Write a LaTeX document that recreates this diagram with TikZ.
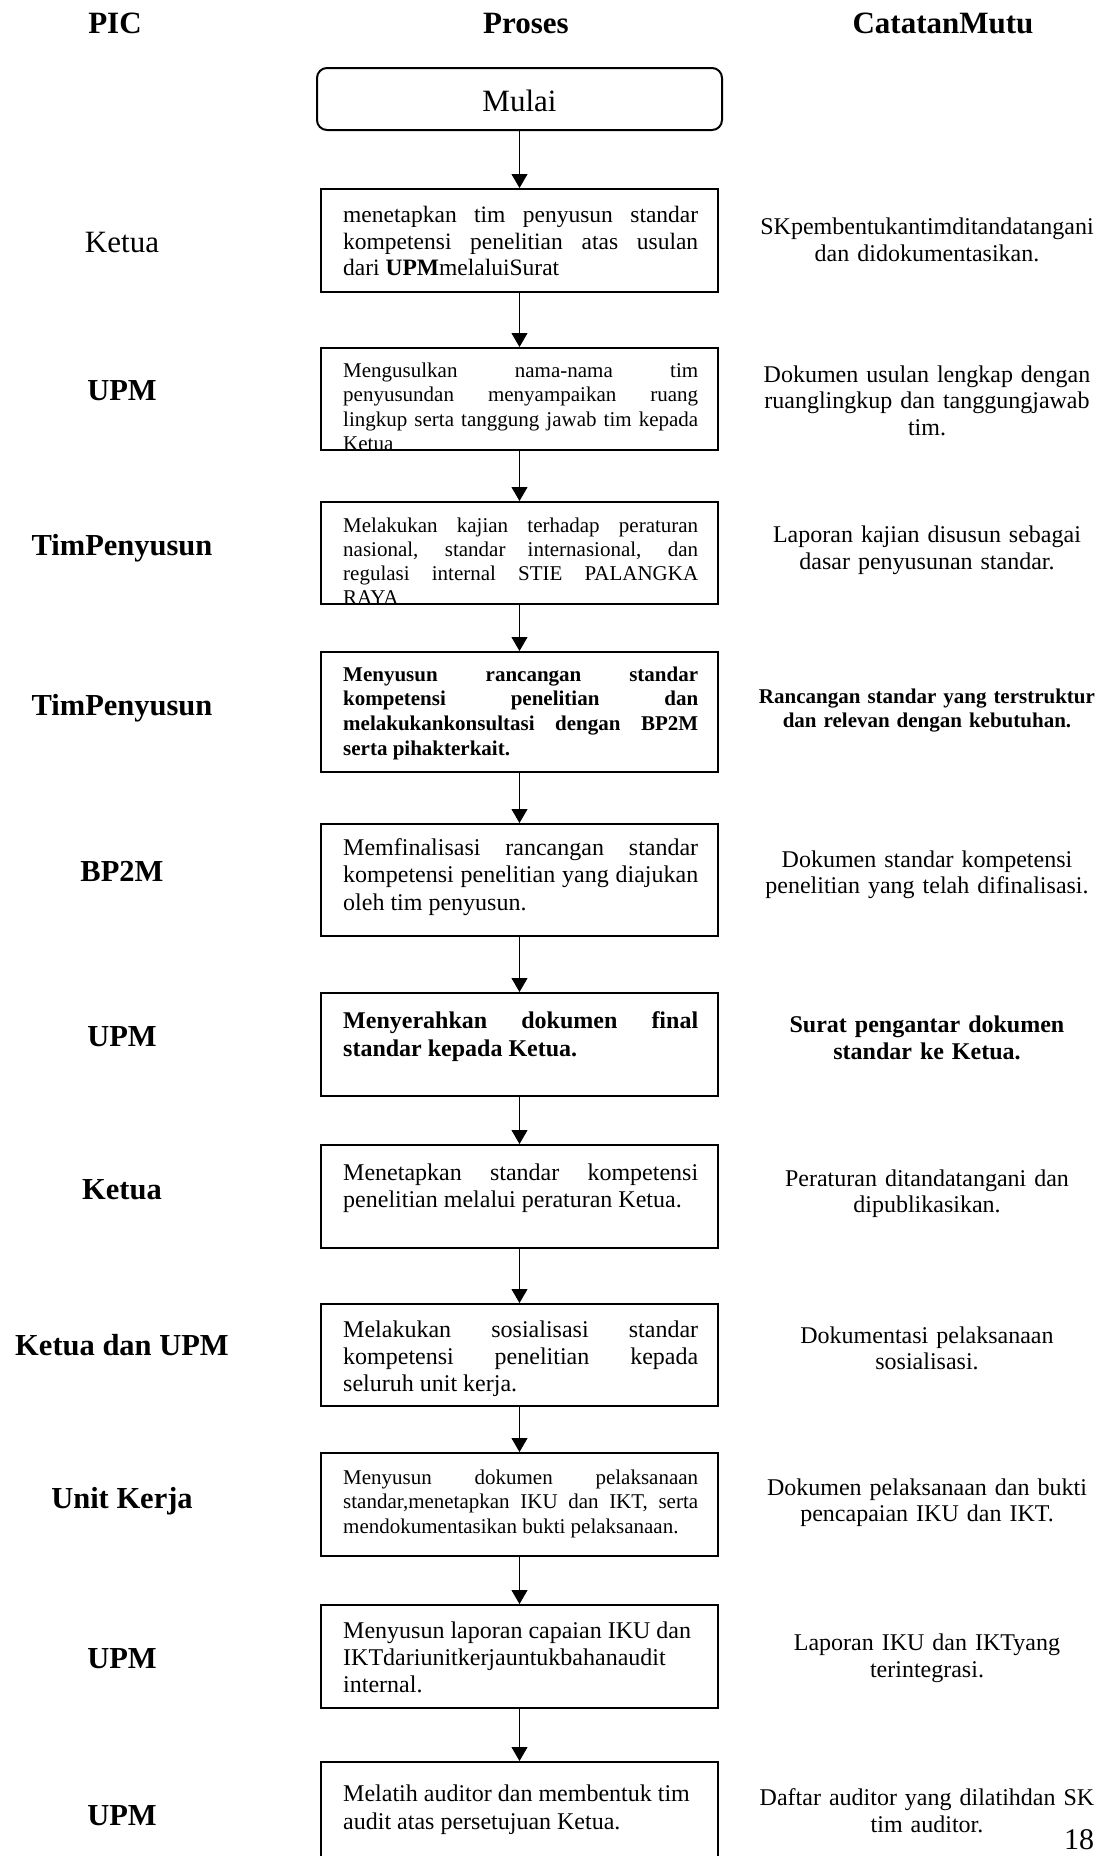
\documentclass[tikz,border=0pt]{standalone}
\usepackage{fontspec}
\setmainfont{Liberation Serif}
\usetikzlibrary{arrows.meta}
\hyphenpenalty=10000
\exhyphenpenalty=10000
\tolerance=10000
\begin{document}
\begin{tikzpicture}[x=1pt,y=-1pt,
  procbox/.style={draw, line width=2pt, minimum width=397pt, inner sep=0pt, anchor=north},
  ptext/.style={anchor=base west, inner sep=0pt, text width=355pt, align=justify},
  pic/.style={anchor=base, inner sep=0pt, font=\fontsize{30.5}{34}\selectfont\bfseries},
  note/.style={anchor=base, inner sep=0pt, text width=350pt, align=center},
  arr/.style={-{Triangle[width=16pt,length=14pt]}, line width=1pt},
  hdr/.style={anchor=base, inner sep=0pt, font=\fontsize{31}{34}\selectfont\bfseries}]
\useasboundingbox (0,0) rectangle (1105,1856);

% headers
\node[hdr] (hpic) at (115,33) {PIC};
\node[hdr] (hpro) at (526,33) {Proses};
\node[hdr] (hcat) at (943,33) {CatatanMutu};

% start
\node[draw, line width=2pt, rounded corners=10pt, minimum width=405pt, minimum height=62pt, inner sep=0pt,
      text height=25pt, text depth=0pt, font=\fontsize{31}{34}\selectfont] (m) at (519.5,99) {Mulai};

% boxes
\node[procbox, minimum height=103pt] (b1) at (519.5,188) {};
\node[procbox, minimum height=102pt] (b2) at (519.5,347) {};
\node[procbox, minimum height=102pt] (b3) at (519.5,501) {};
\node[procbox, minimum height=120pt] (b4) at (519.5,651) {};
\node[procbox, minimum height=112pt] (b5) at (519.5,823) {};
\node[procbox, minimum height=103pt] (b6) at (519.5,992) {};
\node[procbox, minimum height=103pt] (b7) at (519.5,1144) {};
\node[procbox, minimum height=102pt] (b8) at (519.5,1303) {};
\node[procbox, minimum height=103pt] (b9) at (519.5,1452) {};
\node[procbox, minimum height=103pt] (b10) at (519.5,1604) {};
\node[procbox, minimum height=103pt] (b11) at (519.5,1761) {};

% box texts
\node[ptext, font=\fontsize{23.5}{26.7}\selectfont] (t1) at (343,222.5)
  {menetapkan tim penyusun standar\linebreak kompetensi penelitian atas usulan\linebreak dari \textbf{UPM}melaluiSurat};
\begin{scope}
\clip (b2.south west) rectangle (b2.north east);
\node[ptext, font=\fontsize{21}{24.5}\selectfont] (t2) at (343,377)
  {Mengusulkan nama-nama tim\linebreak penyusundan menyampaikan ruang\linebreak lingkup serta tanggung jawab tim kepada\linebreak Ketua};
\end{scope}
\begin{scope}
\clip (b3.south west) rectangle (b3.north east);
\node[ptext, font=\fontsize{21}{24.3}\selectfont] (t3) at (343,532)
  {Melakukan kajian terhadap peraturan\linebreak nasional, standar internasional, dan\linebreak regulasi internal STIE PALANGKA\linebreak RAYA};
\end{scope}
\node[ptext, font=\fontsize{21}{24.7}\selectfont\bfseries] (t4) at (343,681)
  {Menyusun rancangan standar\linebreak kompetensi penelitian dan\linebreak melakukankonsultasi dengan BP2M\linebreak serta pihakterkait.};
\node[ptext, font=\fontsize{24}{27.8}\selectfont] (t5) at (343,855)
  {Memfinalisasi rancangan standar\linebreak kompetensi penelitian yang diajukan\linebreak oleh tim penyusun.};
\node[ptext, font=\fontsize{24}{28}\selectfont\bfseries] (t6) at (343,1028)
  {Menyerahkan dokumen final\linebreak standar kepada Ketua.};
\node[ptext, font=\fontsize{24}{27}\selectfont] (t7) at (343,1180)
  {Menetapkan standar kompetensi\linebreak penelitian melalui peraturan Ketua.};
\node[ptext, font=\fontsize{24}{27}\selectfont] (t8) at (343,1337)
  {Melakukan sosialisasi standar\linebreak kompetensi penelitian kepada\linebreak seluruh unit kerja.};
\node[ptext, font=\fontsize{21}{24.5}\selectfont] (t9) at (343,1484)
  {Menyusun dokumen pelaksanaan\linebreak standar,menetapkan IKU dan IKT, serta\linebreak mendokumentasikan bukti pelaksanaan.};
\node[ptext, font=\fontsize{24}{27}\selectfont] (t10) at (343,1638)
  {Menyusun laporan capaian IKU dan\\ IKTdariunitkerjauntukbahanaudit\\ internal.};
\node[ptext, font=\fontsize{24}{28}\selectfont] (t11) at (343,1801)
  {Melatih auditor dan membentuk tim\\ audit atas persetujuan Ketua.};

% arrows
\draw[arr] (m.south) -- (b1.north);
\draw[arr] (b1.south) -- (b2.north);
\draw[arr] (b2.south) -- (b3.north);
\draw[arr] (b3.south) -- (b4.north);
\draw[arr] (b4.south) -- (b5.north);
\draw[arr] (b5.south) -- (b6.north);
\draw[arr] (b6.south) -- (b7.north);
\draw[arr] (b7.south) -- (b8.north);
\draw[arr] (b8.south) -- (b9.north);
\draw[arr] (b9.south) -- (b10.north);
\draw[arr] (b10.south) -- (b11.north);

% PIC labels
\node[anchor=base, inner sep=0pt, font=\fontsize{31}{34}\selectfont] (p1) at (122,252) {Ketua};
\node[pic] (p2) at (122,400) {UPM};
\node[pic] (p3) at (122,555) {TimPenyusun};
\node[pic] (p4) at (122,715) {TimPenyusun};
\node[pic] (p5) at (122,881) {BP2M};
\node[pic] (p6) at (122,1046) {UPM};
\node[pic] (p7) at (122,1199) {Ketua};
\node[pic] (p8) at (122,1355) {Ketua dan UPM};
\node[pic] (p9) at (122,1508) {Unit Kerja};
\node[pic] (p10) at (122,1668) {UPM};
\node[pic] (p11) at (122,1825) {UPM};

% Catatan Mutu
\node[note, font=\fontsize{24}{27}\selectfont] (c1) at (927,234) {SKpembentukantimditandatangani\\ dan didokumentasikan.};
\node[note, font=\fontsize{24}{26.5}\selectfont] (c2) at (927,382) {Dokumen usulan lengkap dengan\\ ruanglingkup dan tanggungjawab\\ tim.};
\node[note, font=\fontsize{24}{27}\selectfont] (c3) at (927,542) {Laporan kajian disusun sebagai\\ dasar penyusunan standar.};
\node[note, font=\fontsize{21}{24}\selectfont\bfseries] (c4) at (927,703) {Rancangan standar yang terstruktur\\ dan relevan dengan kebutuhan.};
\node[note, font=\fontsize{24}{26.5}\selectfont] (c5) at (927,867) {Dokumen standar kompetensi\\ penelitian yang telah difinalisasi.};
\node[note, font=\fontsize{24}{27}\selectfont\bfseries] (c6) at (927,1032) {Surat pengantar dokumen\\ standar ke Ketua.};
\node[note, font=\fontsize{24}{26.5}\selectfont] (c7) at (927,1186) {Peraturan ditandatangani dan\\ dipublikasikan.};
\node[note, font=\fontsize{24}{26.5}\selectfont] (c8) at (927,1343) {Dokumentasi pelaksanaan\\ sosialisasi.};
\node[note, font=\fontsize{24}{26.5}\selectfont] (c9) at (927,1495) {Dokumen pelaksanaan dan bukti\\ pencapaian IKU dan IKT.};
\node[note, font=\fontsize{24}{27}\selectfont] (c10) at (927,1650) {Laporan IKU dan IKTyang\\ terintegrasi.};
\node[note, font=\fontsize{24}{27}\selectfont] (c11) at (927,1805) {Daftar auditor yang dilatihdan SK\\ tim auditor.};

% page number
\node[anchor=base, inner sep=0pt, font=\fontsize{30}{34}\selectfont] (pg) at (1079,1849) {18};
\end{tikzpicture}
\end{document}
